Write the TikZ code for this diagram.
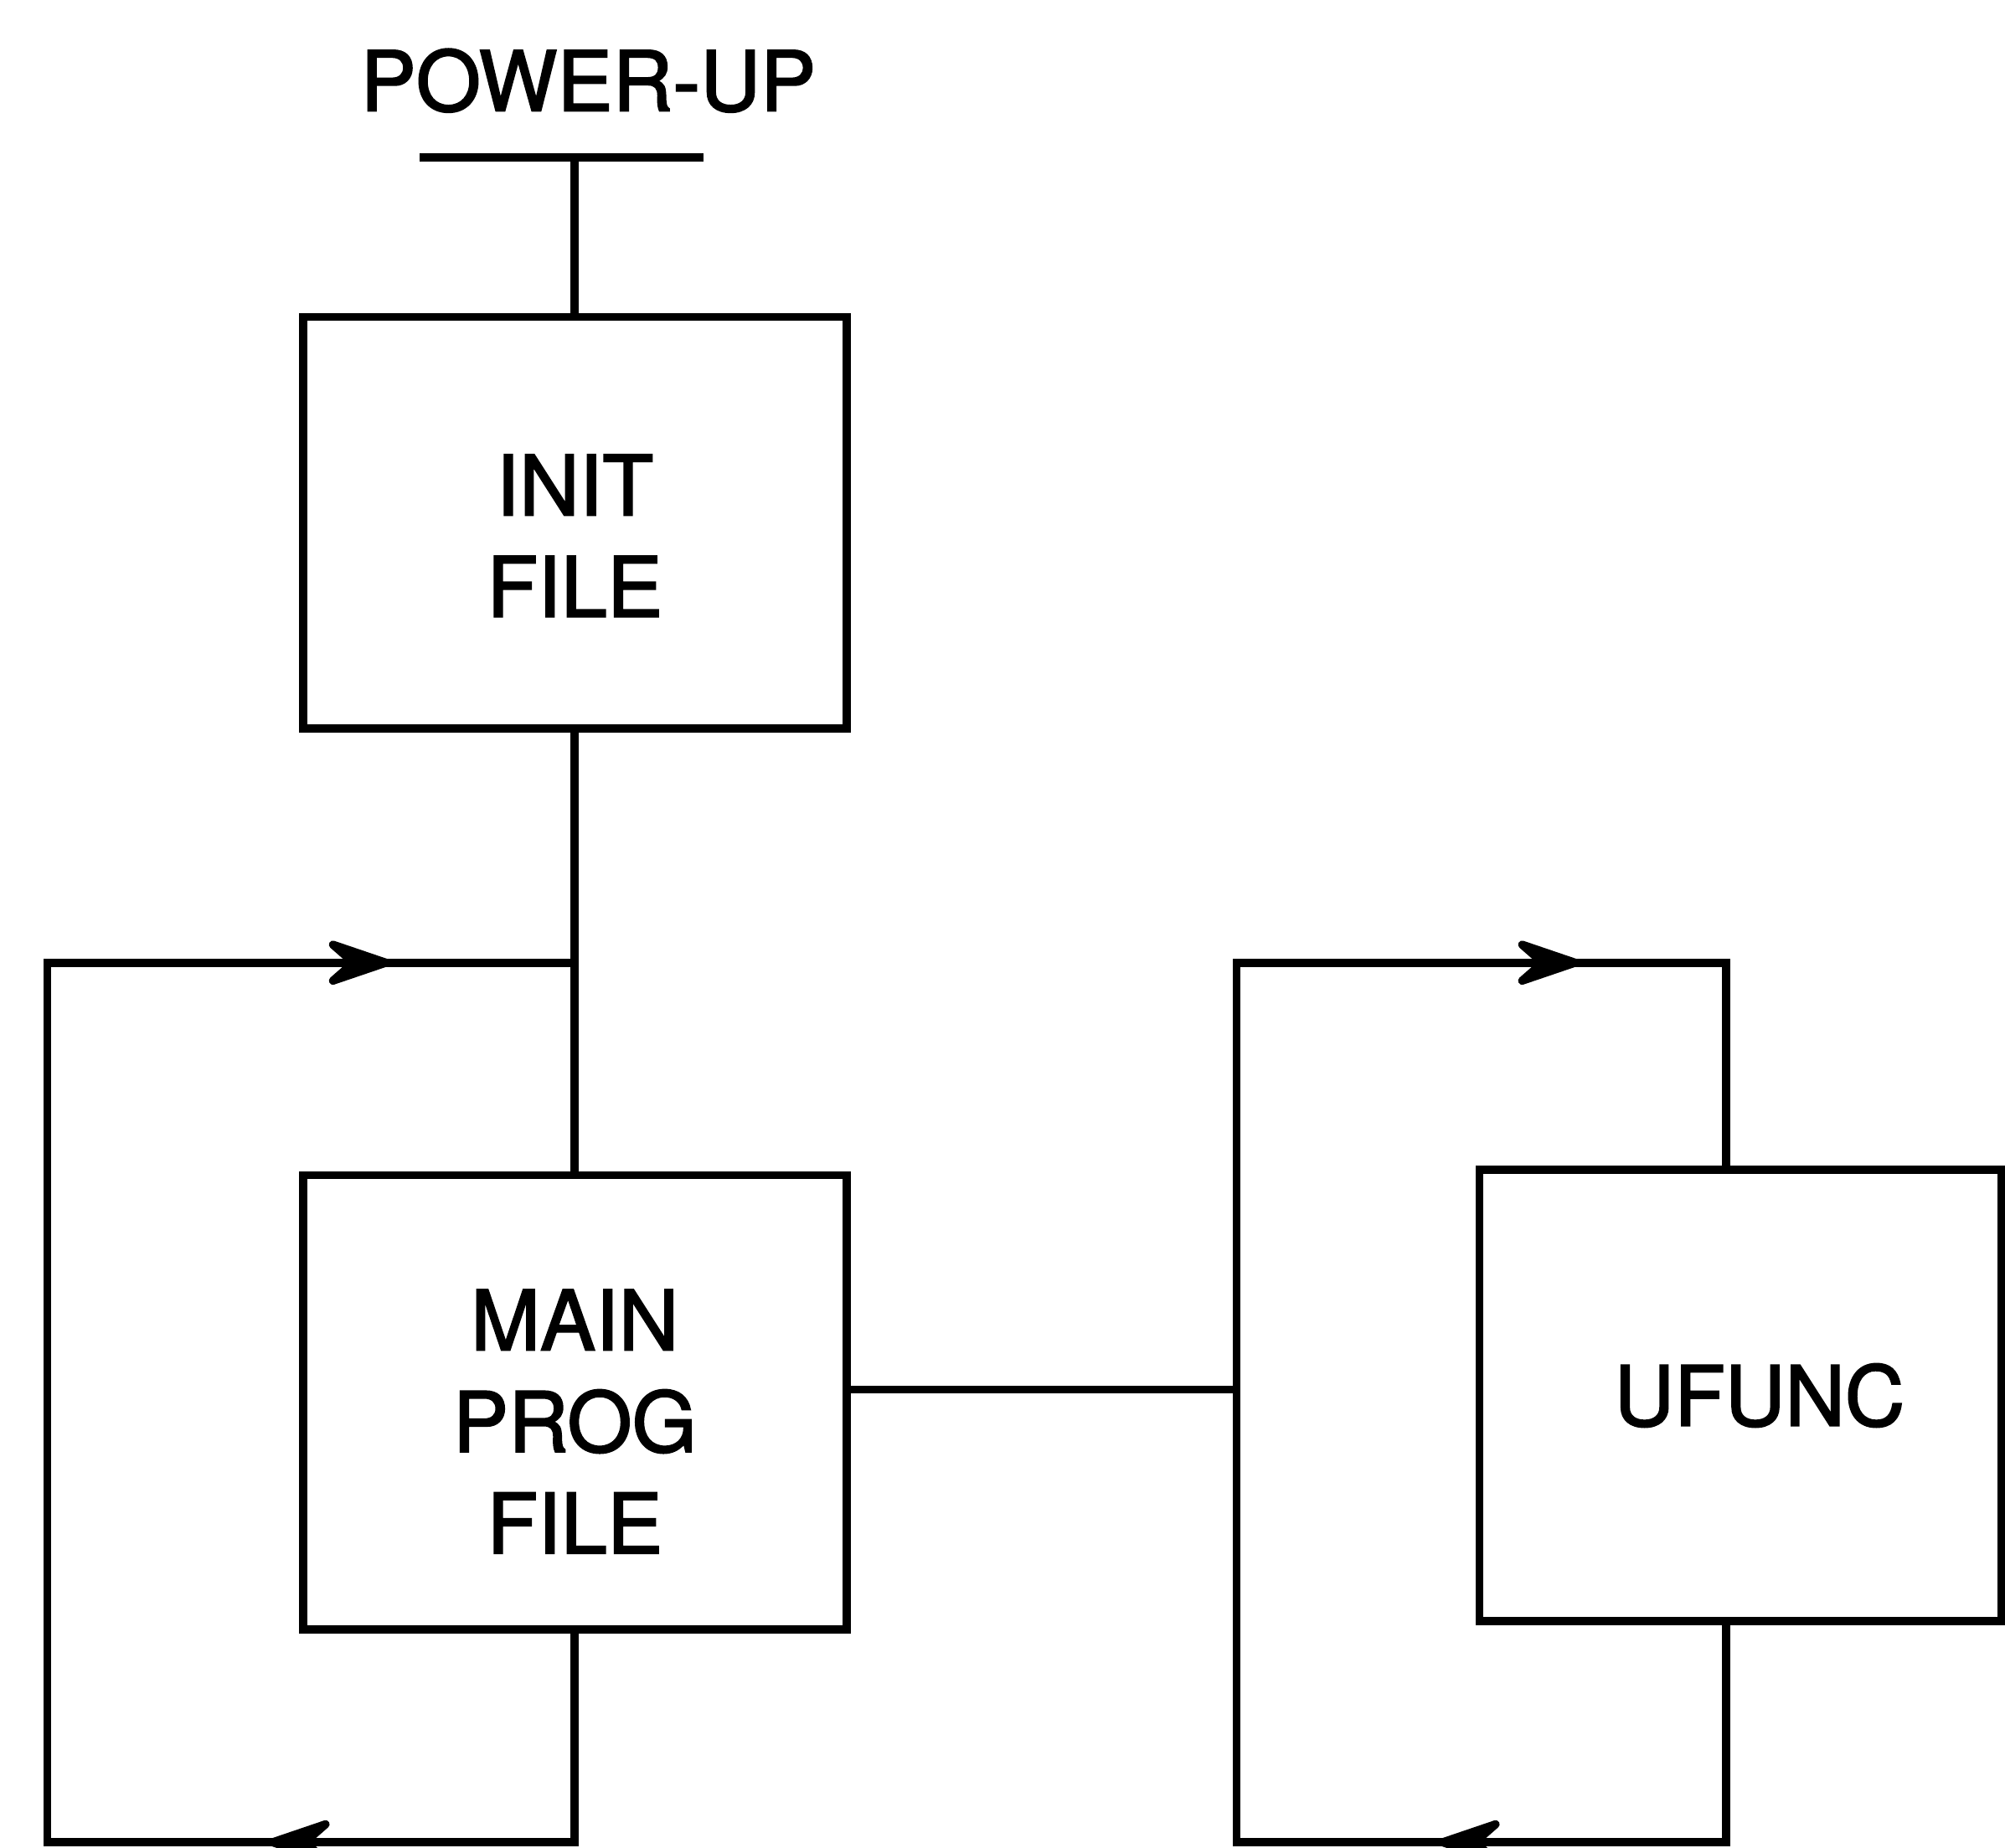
\documentclass[tikz,border=0pt]{standalone}
\usepackage{fontspec}
\setmainfont{TeX Gyre Heros}[FakeBold=2]
\usetikzlibrary{arrows.meta,positioning,calc}
\tikzset{
  flowline/.style={line width=1.8pt, draw=black, line join=miter},
  flowarr/.style={flowline, -{Stealth[length=6.5mm, width=4.4mm, inset=2.5mm, round]}},
  flowbox/.style={draw, line width=1.8pt, align=center, inner sep=0pt},
}

\begin{document}
\begin{tikzpicture}[
  font=\fontsize{18.5pt}{22.6pt}\selectfont,
  box/.style={flowbox, minimum width=4.25cm},
  lbl/.style={align=center, inner sep=0pt},
]
  \useasboundingbox (0,0) rectangle (15.68,-14.45);

  \node (pwr) at (4.6,-0.63) {POWER-UP};
  \coordinate (barl) at (3.28,-1.23);
  \coordinate (barr) at (5.50,-1.23);
  \node[box, minimum height=3.22cm] (init) at (4.495,-4.09) {};
  \node[lbl] (initlbl) at ([yshift=-0.1cm]init.center) {INIT\\FILE};
  \node[box, minimum height=3.55cm, below=3.43cm of init] (main) {};
  \node[lbl] (mainlbl) at ([yshift=-0.15cm]main.center) {MAIN\\PROG\\FILE};
  \node[flowbox, minimum width=4.08cm, minimum height=3.53cm] (ufunc) at (13.61,-10.915) {\hspace*{0.3cm}UFUNC};

  % left loop
  \coordinate (ljn) at (init.south |- 0,-7.53);
  \coordinate (ltl) at (0.37,-7.53);
  \coordinate (lbl) at (0.37,-14.41);
  \coordinate (lbr) at (main.south |- lbl);
  \coordinate (ltip) at (3.05,-7.53);
  \coordinate (lbtip) at (2.1,-14.41);

  % right loop
  \coordinate (rtl) at (9.67,-7.53);
  \coordinate (rtr) at (13.5,-7.53);
  \coordinate (rbl) at (9.67,-14.41);
  \coordinate (rbr) at (13.5,-14.41);
  \coordinate (rtip) at (12.35,-7.53);
  \coordinate (rbtip) at (11.25,-14.41);
  \coordinate (mjn) at (main.east |- 0,-10.87);
  \coordinate (rjn) at (mjn -| rtl);

  \draw[flowline] (barl) -- (barr);
  \draw[flowline] (init.north |- barl) -- (init.north);
  \draw[flowline] (init.south) -- (main.north);

  \draw[flowline] (lbtip) -- (lbl) -- (ltl) -- (ljn);
  \draw[flowarr] (ltl) -- (ltip);
  \draw[flowline] (main.south) -- (lbr) -- (lbtip);
  \draw[flowarr] (lbr) -- (lbtip);

  \draw[flowline] (mjn) -- (rjn);
  \draw[flowline] (rbtip) -- (rbl) -- (rtl) -- (rtr) -- (ufunc.north -| rtr);
  \draw[flowarr] (rtl) -- (rtip);
  \draw[flowline] (ufunc.south -| rbr) -- (rbr) -- (rbtip);
  \draw[flowarr] (rbr) -- (rbtip);
\end{tikzpicture}
\end{document}
